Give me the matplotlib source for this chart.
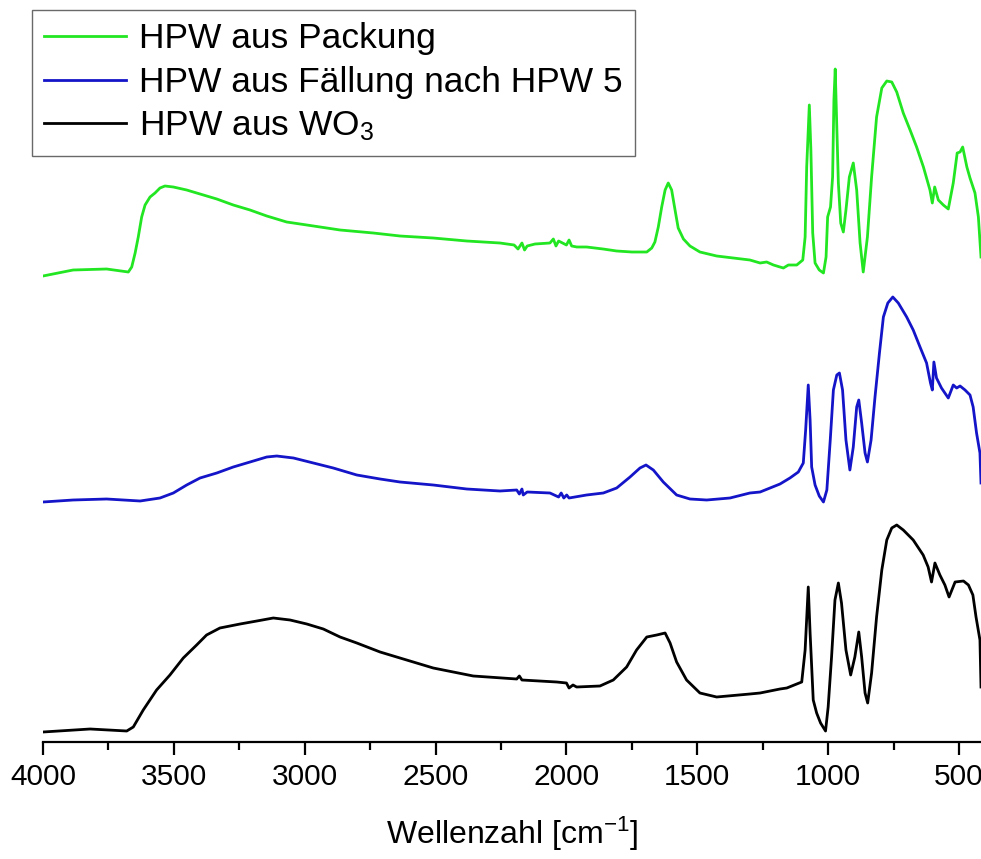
import matplotlib
matplotlib.use("Agg")
import matplotlib.pyplot as plt
from matplotlib.ticker import MultipleLocator

plt.rcParams['font.family'] = ['Liberation Sans', 'DejaVu Sans']
plt.rcParams['mathtext.fontset'] = 'custom'
plt.rcParams['mathtext.rm'] = 'Liberation Sans'
plt.rcParams['mathtext.it'] = 'Liberation Sans'

# Wavenumbers [cm^-1] and intensities (a.u., offset spectra)
wn_green = [4000, 3885, 3757, 3674, 3661, 3648, 3636, 3623, 3610, 3591, 3572, 3553, 3534, 3502,
            3451, 3400, 3336, 3273, 3209, 3145, 3069, 2992, 2865, 2738, 2636, 2509, 2381, 2254,
            2200, 2185, 2170, 2160, 2150, 2120, 2063, 2050, 2040, 2030, 2000, 1990, 1980, 1960,
            1923, 1860, 1808, 1750, 1693, 1674, 1662, 1649, 1636, 1623, 1611, 1598, 1585, 1573,
            1553, 1528, 1490, 1426, 1299, 1260, 1235, 1209, 1184, 1171, 1152, 1120, 1097, 1088,
            1082, 1072, 1066, 1059, 1050, 1034, 1018, 1008, 1002, 991, 983, 978, 973, 968, 961,
            952, 942, 932, 919, 904, 891, 878, 866, 850, 834, 815, 795, 776, 757, 738, 713, 687,
            662, 636, 611, 602, 593, 579, 560, 541, 522, 507, 496, 486, 470, 458, 439, 426, 416]
y_green = [466, 472, 473, 470, 475, 489, 505, 525, 537, 545, 549, 554, 556, 555,
           552, 548, 543, 537, 532, 526, 520, 517, 512, 509, 506, 504, 501, 499,
           497, 493, 499, 492, 496, 498, 499, 503, 496, 501, 497, 502, 496, 495,
           495, 493, 491, 490, 490, 494, 500, 515, 535, 552, 559, 552, 532, 514,
           503, 496, 490, 486, 482, 479, 480, 477, 475, 474, 477, 477, 482, 505,
           575, 637, 592, 509, 479, 472, 469, 485, 525, 535, 565, 642, 673, 625, 559,
           519, 510, 532, 565, 579, 552, 499, 470, 505, 565, 625, 654, 661, 660, 650, 629, 612,
           595, 575, 552, 539, 555, 542, 537, 533, 559, 589, 590, 595, 575, 564, 549, 525, 485]

wn_blue = [4000, 3885, 3757, 3629, 3553, 3502, 3451, 3400, 3336, 3273, 3209, 3145, 3107, 3043,
           2967, 2891, 2801, 2712, 2636, 2509, 2381, 2254, 2190, 2180, 2170, 2165, 2150, 2063,
           2030, 2020, 2010, 1999, 1990, 1923, 1859, 1808, 1757, 1719, 1696, 1668, 1630, 1579,
           1528, 1464, 1375, 1299, 1260, 1222, 1184, 1146, 1114, 1095, 1086, 1076, 1069, 1063,
           1050, 1034, 1018, 1005, 992, 980, 967, 957, 945, 932, 917, 904, 891, 883, 872, 859,
           850, 836, 821, 804, 789, 772, 753, 732, 700, 675, 649, 624, 609, 602, 596, 586, 567,
           541, 522, 509, 496, 477, 458, 446, 433, 420, 416]
y_blue = [240, 242, 243, 241, 244, 249, 257, 264, 269, 275, 280, 285, 286, 284,
          279, 274, 267, 263, 260, 257, 253, 251, 252, 248, 253, 247, 250, 249,
          245, 249, 244, 247, 244, 247, 249, 254, 265, 274, 277, 272, 260, 247,
          243, 242, 244, 249, 250, 254, 258, 264, 270, 279, 312, 357, 322, 275,
          257, 246, 240, 252, 302, 352, 367, 369, 352, 302, 272, 295, 335, 342, 319, 289,
          280, 302, 345, 389, 425, 439, 445, 439, 425, 412, 395, 379, 359, 352, 380, 364, 354,
          344, 357, 354, 356, 352, 347, 335, 309, 289, 259]

wn_black = [4000, 3820, 3680, 3655, 3617, 3566, 3515, 3464, 3413, 3375, 3324, 3247, 3183, 3120,
            3056, 2992, 2929, 2865, 2801, 2712, 2636, 2509, 2356, 2190, 2180, 2170, 2037, 2000,
            1990, 1975, 1961, 1872, 1821, 1770, 1732, 1693, 1655, 1623, 1604, 1579, 1541, 1490,
            1426, 1299, 1260, 1184, 1158, 1101, 1088, 1076, 1069, 1057, 1044, 1029, 1010, 1000,
            987, 974, 961, 949, 932, 914, 898, 883, 872, 859, 849, 834, 815, 795, 776, 757, 738,
            713, 675, 637, 618, 605, 592, 573, 554, 538, 515, 483, 464, 447, 435, 420, 416]
y_black = [10, 13, 11, 15, 32, 52, 67, 84, 97, 107, 114, 118, 121, 124,
           122, 118, 113, 105, 99, 90, 84, 74, 66, 63, 66, 62, 60, 59,
           54, 57, 55, 56, 62, 75, 92, 105, 107, 109, 99, 80, 62, 49,
           45, 48, 49, 53, 54, 60, 92, 155, 109, 42, 29, 19, 11, 35,
           85, 142, 159, 139, 92, 67, 85, 110, 85, 49, 39, 69, 125, 172, 202, 214, 217,
           212, 202, 187, 175, 160, 179, 167, 157, 145, 160, 161, 157, 147, 125, 102, 55]

labels = ["HPW aus Packung", "HPW aus Fällung nach HPW 5", "HPW aus WO$_3$"]
colors = ["#22e622", "#1414c8", "#000000"]
xticks = [4000, 3500, 3000, 2500, 2000, 1500, 1000, 500]

W, H = 981, 859
fig = plt.figure(figsize=(W / 100, H / 100), dpi=100)
ax = fig.add_axes([43 / W, (H - 742) / H, 1 - 43 / W, 742 / H])

for wn, y, c, lab in zip([wn_green, wn_blue, wn_black], [y_green, y_blue, y_black], colors, labels):
    ax.plot(wn, y, color=c, lw=2.0, label=lab, solid_joinstyle='round')

ax.set_xlim(4000, 416)
ax.set_ylim(0, 742)
for s in ['left', 'right', 'top']:
    ax.spines[s].set_visible(False)
ax.spines['bottom'].set_linewidth(1.6)
ax.set_yticks([])
ax.set_xticks(xticks)
ax.xaxis.set_minor_locator(MultipleLocator(250))
ax.tick_params(axis='x', which='major', direction='out', length=9, width=1.6,
               labelsize=21.5, pad=6)
ax.tick_params(axis='x', which='minor', direction='out', length=5.5, width=1.6)
ax.set_xlabel("Wellenzahl [cm$^{-1}$]", fontsize=23, labelpad=17)

leg = ax.legend(loc='upper left', bbox_to_anchor=(32 / W, 1 - 10 / H),
                bbox_transform=fig.transFigure, borderaxespad=0, fontsize=25.5,
                handlelength=2.29, handletextpad=0.37, labelspacing=0.3,
                borderpad=0.35, fancybox=False, frameon=True)
leg.get_frame().set_edgecolor('#444444')
leg.get_frame().set_linewidth(1.0)
for line in leg.get_lines():
    line.set_linewidth(2.0)

fig.savefig("out.png", dpi=100)
